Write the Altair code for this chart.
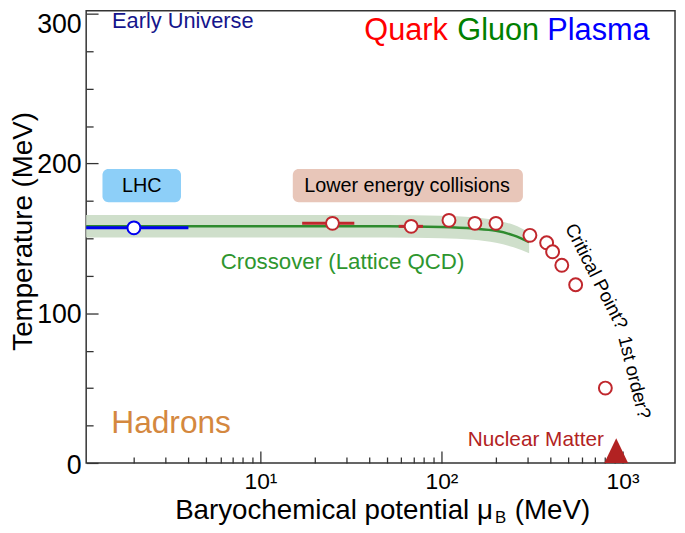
import altair as alt
import pandas as pd

FONT = "Liberation Sans"

# ---------------- data ----------------
# Lattice QCD crossover band and central line
band_mu = [1.0, 10, 50, 100, 150, 200, 250, 305]
band_hi = [165.5, 165.5, 165.5, 165.0, 164.0, 162.0, 159.0, 154.0]
band_lo = [150.5, 150.5, 150.5, 150.0, 149.0, 147.0, 144.0, 140.0]
cross_mu = [1.0, 10, 50, 100, 150, 200, 250, 305]
cross_T = [158, 158, 158, 157.5, 156.5, 155, 152, 147.5]

# LHC freeze-out point
lhc_mu = [2.0]
lhc_T = [157]
lhc_lo = [0.5]
lhc_hi = [4.0]

# lower energy collisions (freeze-out points)
low_mu = [25, 68, 110, 153, 200, 308, 381, 411, 462, 551, 804]
low_T = [160, 158, 162, 160, 160, 152, 147, 141, 132, 119, 50]
err_mu = [25, 68]
err_T = [160, 158]
err_lo = [17, 58]
err_hi = [33, 79]

# nuclear matter
nm_mu = [923]
nm_T = [0]

# axis ticks
x_major = [10, 100, 1000]
x_minor = [2, 3, 4, 5, 6, 7, 8, 9, 20, 30, 40, 50, 60, 70, 80, 90,
           200, 300, 400, 500, 600, 700, 800, 900]
y_major = [0, 100, 200, 300]
y_minor = [25, 50, 75, 125, 150, 175, 225, 250, 275]

# label boxes
box_text = ["LHC", "Lower energy collisions"]
box_mu_lo = [1.341, 15.09]
box_mu_hi = [3.64, 281.7]
box_T_lo = [174.1, 174.1]
box_T_hi = [196.3, 196.3]
box_text_mu = [2.21, 64.5]
box_text_T = [185, 185]

# ---------------- scales / axes ----------------
xs = alt.Scale(type="log", domain=[1.09, 1950], nice=False)
ys = alt.Scale(domain=[0, 302], nice=False, zero=False)

TICK = "#333333"

ax_x_major = alt.Axis(orient="bottom", values=x_major, tickSize=12, offset=-12,
                      domain=False, grid=False, tickColor=TICK, tickWidth=1.3,
                      labelExpr="datum.value == 10 ? '10¹' : datum.value == 100 ? '10²' : '10³'",
                      labelFont=FONT, labelFontSize=23, labelColor="black",
                      labelBaseline="alphabetic", labelPadding=26,
                      labelOverlap=False, labelFlush=False, title=None)
ax_y_major = alt.Axis(orient="left", values=y_major, tickSize=12, offset=-12,
                      domain=False, grid=False, tickColor=TICK, tickWidth=1.3,
                      labelFont=FONT, labelFontSize=27, labelColor="black",
                      labelPadding=5, labelOverlap=False, labelFlush=False,
                      labelOffset={"condition": [{"test": "datum.value == 300", "value": 11},
                                                 {"test": "datum.value == 0", "value": 3}],
                                   "value": 1},
                      format="d", title=None)
ax_x_minor = alt.Axis(orient="bottom", values=x_minor, tickSize=6, offset=-6,
                      domain=False, grid=False, tickColor=TICK, tickWidth=1.3,
                      labels=False, title=None)
ax_y_minor = alt.Axis(orient="left", values=y_minor, tickSize=7, offset=-7,
                      domain=False, grid=False, tickColor=TICK, tickWidth=1.3,
                      labels=False, title=None)


def X(field, axis=None):
    return alt.X(field, type="quantitative", scale=xs, axis=axis)


def Y(field, axis=None):
    return alt.Y(field, type="quantitative", scale=ys, axis=axis)


band_df = pd.DataFrame({"mu": band_mu, "hi": band_hi, "lo": band_lo})
cross_df = pd.DataFrame({"mu": cross_mu, "T": cross_T})
lhc_df = pd.DataFrame({"mu": lhc_mu, "T": lhc_T, "lo": lhc_lo, "hi": lhc_hi})
low_df = pd.DataFrame({"mu": low_mu, "T": low_T})
err_df = pd.DataFrame({"mu": err_mu, "T": err_T, "lo": err_lo, "hi": err_hi})
nm_df = pd.DataFrame({"mu": nm_mu, "T": nm_T})
box_df = pd.DataFrame({"text": box_text, "lo": box_mu_lo, "hi": box_mu_hi,
                       "Tlo": box_T_lo, "Thi": box_T_hi,
                       "tmu": box_text_mu, "tT": box_text_T})

band = alt.Chart(band_df).mark_area(interpolate="monotone", color="#CFDFCB", clip=True).encode(
    x=X("mu", ax_x_major), y=Y("lo", ax_y_major), y2="hi")

cross = alt.Chart(cross_df).mark_line(interpolate="monotone", color="#2E8B2E",
                                      strokeWidth=2.5, clip=True).encode(
    x=X("mu", ax_x_minor), y=Y("T", ax_y_minor))

boxes = alt.Chart(box_df).mark_rect(cornerRadius=6).encode(
    x=X("lo"), x2="hi", y=Y("Tlo"), y2="Thi",
    color=alt.Color("text:N", scale=alt.Scale(domain=box_text, range=["#8DCFF8", "#E8C6B9"]),
                    legend=None))

box_labels = alt.Chart(box_df).mark_text(font=FONT, fontSize=20, color="black",
                                         align="center", baseline="middle").encode(
    x=X("tmu"), y=Y("tT"), text="text:N")

lhc_bar = alt.Chart(lhc_df).mark_rule(color="#0000F0", strokeWidth=3, clip=True).encode(
    x=X("lo"), x2="hi", y=Y("T"))
lhc_pt = alt.Chart(lhc_df).mark_point(shape="circle", fill="white", fillOpacity=1, opacity=1,
                                      stroke="#0000F0", strokeWidth=2, size=170).encode(
    x=X("mu"), y=Y("T"))

err_bar = alt.Chart(err_df).mark_rule(color="#C0272D", strokeWidth=3).encode(
    x=X("lo"), x2="hi", y=Y("T"))
low_pt = alt.Chart(low_df).mark_point(shape="circle", fill="white", fillOpacity=1, opacity=1,
                                      stroke="#C0272D", strokeWidth=2, size=170).encode(
    x=X("mu"), y=Y("T"))

nm_pt = alt.Chart(nm_df).mark_point(shape="M-1,0L1,0L0,-2.08Z", filled=True, opacity=1,
                                    color="#B22222", size=576).encode(
    x=X("mu"), y=Y("T"))


def label(text, mu, T, color, size, align="left", angle=0):
    df = pd.DataFrame({"mu": [mu], "T": [T], "t": [text]})
    return alt.Chart(df).mark_text(font=FONT, fontSize=size, color=color, align=align,
                                   baseline="middle", angle=angle).encode(
        x=X("mu"), y=Y("T"), text="t:N")


annos = [
    label("Early Universe", 1.515, 295.4, "#15158C", 22),
    label("Quark", 37.5, 288.1, "#FF0000", 31),
    label("Gluon", 122.3, 288.1, "#008000", 31),
    label("Plasma", 384.3, 288.1, "#0000FF", 31),
    label("Crossover (Lattice QCD)", 28.4, 134.2, "#2E962E", 22.5, align="center"),
    label("Hadrons", 1.5, 26.4, "#D4883F", 32),
    label("Nuclear Matter", 790, 15.5, "#B22222", 21, align="right"),
    label("Critical Point?", 716, 124.6, "black", 19, align="center", angle=63),
    label("1st order?", 1160, 57.2, "black", 19, align="center", angle=76),
]


def ptext(text, x, y, size, align="left", angle=0, baseline="alphabetic"):
    df = pd.DataFrame({"t": [text]})
    return alt.Chart(df).mark_text(font=FONT, fontSize=size, color="black", align=align,
                                   baseline=baseline, angle=angle).encode(
        x=alt.value(x), y=alt.value(y), text="t:N")


titles = [
    ptext("Baryochemical potential μ", 411, 514, 28, align="right"),
    ptext("B", 413, 517.5, 17),
    ptext("(MeV)", 433, 514, 28),
    ptext("Temperature (MeV)", -62.5, 223, 28, align="center", angle=270, baseline="middle"),
]

chart = alt.layer(
    band, cross, boxes, box_labels, lhc_bar, err_bar, lhc_pt, low_pt, nm_pt,
    *annos, *titles
).resolve_axis(x="independent", y="independent").properties(
    width=595, height=457,
    autosize=alt.AutoSizeParams(type="none"),
    padding={"left": 79, "right": 2, "top": 0, "bottom": 63},
).configure(font=FONT).configure_view(stroke="#333333", strokeWidth=1.5)

chart.save("out.html", embed_options={"renderer": "svg", "actions": False})
